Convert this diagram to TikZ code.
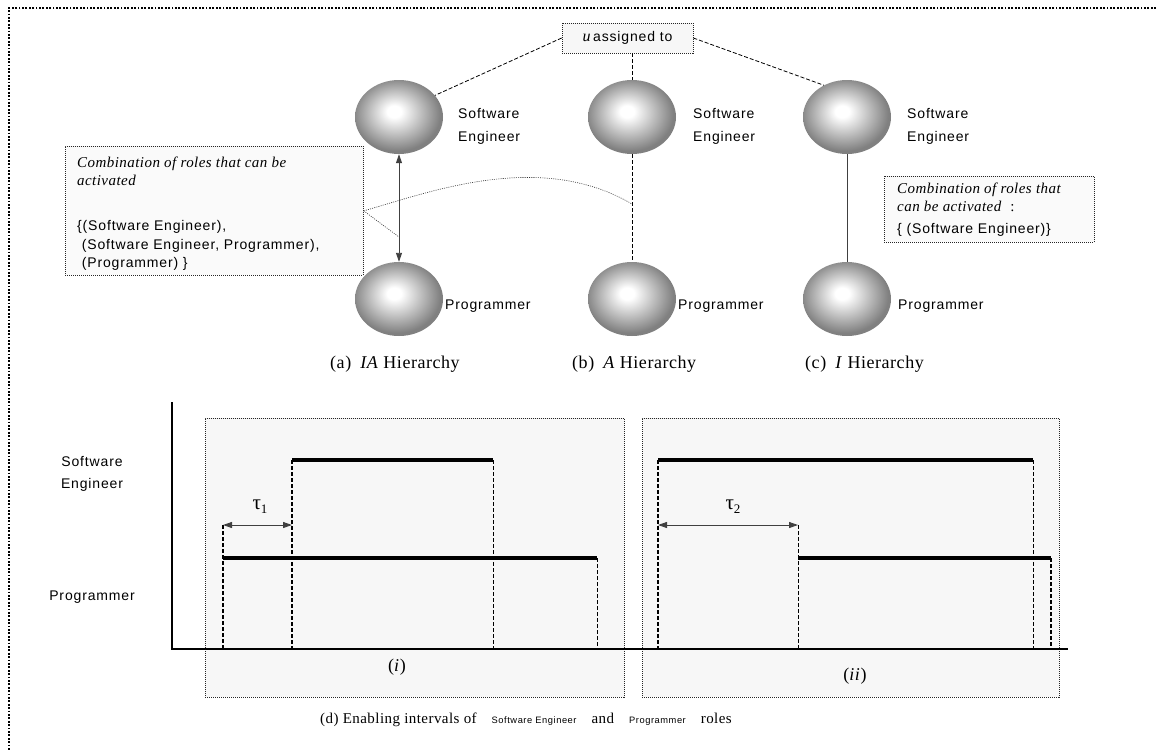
\documentclass[tikz,border=0pt]{standalone}
\usepackage{fontspec}
\setmainfont{Liberation Serif}
\newfontfamily\rolesans{Liberation Sans}[LetterSpace=6]
\newfontfamily\capserif{Liberation Serif}[LetterSpace=3]
\usetikzlibrary{arrows.meta,shapes.geometric}
\newcommand\rolefont{\rolesans\fontsize{14}{18}\selectfont}
\newcommand\smallrolefont{\rolesans\fontsize{9.3}{11}\selectfont}
\newcommand\capfont{\capserif\fontsize{18}{22}\selectfont}
\newcommand\smallcapfont{\capserif\fontsize{15}{18}\selectfont}
\newcommand\notefont{\capserif\itshape\fontsize{15}{18}\selectfont}
\newcommand\taulabel[1]{{\capserif\fontsize{21}{22}\selectfont τ}\raisebox{-4pt}{\capserif\fontsize{13}{13}\selectfont #1}}
% shaded sphere used for every role
\pgfdeclareradialshading{rolesphere}{\pgfpoint{-3bp}{4bp}}{color(0bp)=(white); color(4bp)=(white); color(25bp)=(black!50); color(50bp)=(black!50)}
\tikzset{
  role/.style={ellipse, minimum width=88pt, minimum height=74pt, inner sep=0pt, shading=rolesphere},
  rolelabel/.style={font=\rolefont, inner sep=0pt, anchor=base west},
  notebox/.style={draw=black!85, dash pattern=on 1pt off 1pt, line width=0.7pt, fill=black!2, inner sep=0pt, anchor=north west},
  notetext/.style={font=\notefont, inner sep=0pt, anchor=base west},
  setline/.style={font=\rolefont, inner sep=0pt, anchor=base west},
  link/.style={draw=black, line width=0.8pt, dash pattern=on 4pt off 2pt},
  hint/.style={draw=black!80, line width=0.6pt, dash pattern=on 1pt off 1.2pt},
  tipped/.style={line width=0.9pt, draw=black!75, {Triangle[length=9pt,width=6pt]}-{Triangle[length=9pt,width=6pt]}},
  panel/.style={draw=black!85, line width=0.7pt, dash pattern=on 1pt off 1pt, fill=black!3, inner sep=0pt, anchor=north west},
  axis/.style={line width=2.4pt},
  signal/.style={line width=4pt},
  guide/.style={line width=0.8pt, dash pattern=on 4pt off 2pt},
  guidebold/.style={line width=1.6pt, dash pattern=on 4pt off 2pt},
  frame/.style={line width=1.8pt, dash pattern=on 1.8pt off 1.6pt},
  caption/.style={font=\capfont, inner sep=0pt, anchor=base west}
}
\begin{document}
\begin{tikzpicture}[x=1pt,y=-1pt]
\useasboundingbox (0,0) rectangle (1156,750);

% outer frame (only top and left edges fall inside the page)
\draw[frame] (1156,8) -- (9,8) -- (9,750);

% ---------- role hierarchies ----------
\node[role] (se1) at (399,117) {};
\node[role] (se2) at (632,117) {};
\node[role] (se3) at (847,117) {};
\node[role] (pr1) at (399,299) {};
\node[role] (pr2) at (632,299) {};
\node[role] (pr3) at (847,299) {};

\node[rolelabel, anchor=north west, align=left, font=\rolesans\fontsize{14}{23}\selectfont] (sel1) at (458,108) {Software\\Engineer};
\node[rolelabel, anchor=north west, align=left, font=\rolesans\fontsize{14}{23}\selectfont] (sel2) at (693,108) {Software\\Engineer};
\node[rolelabel, anchor=north west, align=left, font=\rolesans\fontsize{14}{23}\selectfont] (sel3) at (907,108) {Software\\Engineer};
\node[rolelabel] (prl1) at (445,309) {Programmer};
\node[rolelabel] (prl2) at (678,309) {Programmer};
\node[rolelabel] (prl3) at (898,309) {Programmer};

% user assignment
\node[draw=black!85, dash pattern=on 1pt off 1pt, line width=0.7pt, fill=black!3,
      minimum width=131pt, minimum height=30pt, inner sep=0pt] (assign) at (627.5,38)
      {{\capserif\fontsize{16}{18}\selectfont\itshape u}\ {\rolefont assigned to}};
\draw[link] (assign.west) -- (se1.31);
\draw[link] (se2.north |- assign.south) -- (se2.north);
\draw[link] (assign.east) -- (se3.126);

% hierarchy edges
\draw[tipped] (se1.south) -- (pr1.north);
\draw[link] (se2.south) -- (pr2.north);
\draw[line width=0.9pt, draw=black!75] (se3.south) -- (pr3.north);

% note for the IA hierarchy
\node[notebox, minimum width=298pt, minimum height=129pt] (combA) at (65,146) {};
\node[notetext] (ca1) at (77,167) {Combination of roles that can be};
\node[notetext] (ca2) at (77,185) {activated};
\node[setline] (ca3) at (77,230) {\{(Software Engineer),};
\node[setline] (ca4) at (77,249) {\ (Software Engineer, Programmer),};
\node[setline] (ca5) at (77,267) {\ (Programmer) \}};
\coordinate (armA) at (399,237);
\coordinate (armB) at (632,204);
\draw[hint] (combA.east) .. controls (430,192) and (540,150) .. (armB);
\draw[hint] (combA.east) -- (armA);

% note for the I hierarchy
\node[notebox, minimum width=210pt, minimum height=66pt] (combC) at (884,176) {};
\node[notetext] (cc1) at (897,193) {Combination of roles that};
\node[notetext] (cc2) at (897,211) {can be activated\hspace{9pt}{\upshape :}};
\node[setline] (cc3) at (897,233) {\{ (Software Engineer)\}};

% captions of the three hierarchies
\node[caption] (capa) at (330,368) {(a)\enspace\textit{IA} Hierarchy};
\node[caption] (capb) at (572,368) {(b)\enspace\textit{A} Hierarchy};
\node[caption] (capc) at (805,368) {(c)\enspace\textit{I} Hierarchy};

% ---------- enabling intervals ----------
\node[panel, minimum width=419pt, minimum height=279pt] (pan1) at (205,418) {};
\node[panel, minimum width=417pt, minimum height=279pt] (pan2) at (642,418) {};
\node[font=\capfont, inner sep=0pt] (pl1) at (397,667) {(\textit{i})};
\node[font=\capfont, inner sep=0pt] (pl2) at (855,676) {(\textit{ii})};

\coordinate (ytop) at (172,402);
\coordinate (orig) at (172,649);
\coordinate (xend) at (1068,649);
\draw[axis] (ytop) -- (orig) -- (xend);

\node[font=\rolefont, align=center, inner sep=0pt] (ysel) at (92,474) {Software\\[4pt]Engineer};
\node[font=\rolefont, inner sep=0pt] (yprl) at (92,597) {Programmer};

% interval (i)
\draw[signal] (292,460) -- (493,460);
\draw[signal] (223,558) -- (597,558);
\draw[guidebold] (223,525) -- (223,649);
\draw[guidebold] (292,460) -- (292,649);
\draw[guide] (493,460) -- (493,649);
\draw[guide] (597,558) -- (597,649);
\coordinate (t1a) at (223,525);
\coordinate (t1b) at (292,525);
\draw[tipped] (t1a) -- (t1b);
\node[inner sep=0pt] (tau1) at (260,507) {\taulabel{1}};

% interval (ii)
\draw[signal] (658,460) -- (1033,460);
\draw[signal] (798,558) -- (1051,558);
\draw[guidebold] (658,460) -- (658,649);
\draw[guide] (798,525) -- (798,649);
\draw[guide] (1033,460) -- (1033,649);
\draw[guidebold] (1051,558) -- (1051,649);
\coordinate (t2a) at (658,525);
\coordinate (t2b) at (798,525);
\draw[tipped] (t2a) -- (t2b);
\node[inner sep=0pt] (tau2) at (733,507) {\taulabel{2}};

% overall caption
\node[font=\smallcapfont, inner sep=0pt, anchor=base] (capd) at (526,723)
  {(d) Enabling intervals of\quad{\smallrolefont Software Engineer}\quad and\quad{\smallrolefont Programmer}\quad roles};
\end{tikzpicture}
\end{document}
